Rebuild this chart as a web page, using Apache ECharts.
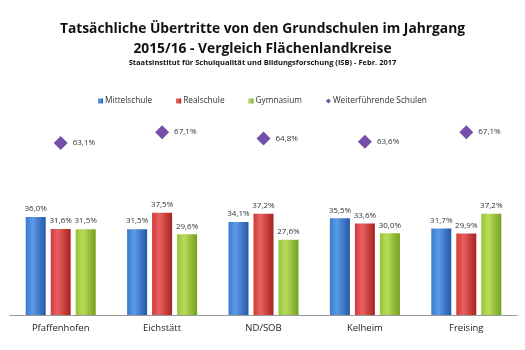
<!DOCTYPE html>
<html>
<head>
<meta charset="utf-8">
<script src="https://cdn.jsdelivr.net/npm/echarts@6/dist/echarts.min.js"></script>
<style>
  html, body { margin: 0; padding: 0; background: #fff; }
  #chart { width: 525px; height: 350px; }
</style>
</head>
<body>
<div id="chart"></div>
<script>
  const categories = ['Pfaffenhofen', 'Eichstätt', 'ND/SOB', 'Kelheim', 'Freising'];
  const mittelschule = [36.0, 31.5, 34.1, 35.5, 31.7];
  const realschule = [31.6, 37.5, 37.2, 33.6, 29.9];
  const gymnasium = [31.5, 29.6, 27.6, 30.0, 37.2];
  const weiterfuehrend = [63.1, 67.1, 64.8, 63.6, 67.1];

  const fmt = (p) => p.value.toFixed(1).replace('.', ',') + '%';

  const barGrad = (light, mid, dark) => ({
    type: 'linear', x: 0, y: 0, x2: 1, y2: 0,
    colorStops: [
      { offset: 0, color: mid },
      { offset: 0.35, color: light },
      { offset: 1, color: dark },
    ],
  });

  const barLabel = {
    show: true,
    position: 'top',
    distance: 4,
    formatter: fmt,
    fontFamily: 'Open Sans',
    fontSize: 8,
    color: '#333',
  };

  const chart = echarts.init(document.getElementById('chart'));

  chart.setOption({
    animation: false,
    textStyle: { fontFamily: 'Open Sans' },
    title: [
      {
        text: 'Tatsächliche Übertritte von den Grundschulen im Jahrgang\n2015/16 - Vergleich Flächenlandkreise',
        left: 'center',
        top: 14,
        textStyle: { fontSize: 13.8, fontWeight: 'bold', color: '#111', lineHeight: 20, fontFamily: 'Open Sans' },
      },
      {
        text: 'Staatsinstitut für Schulqualität und Bildungsforschung (ISB) - Febr. 2017',
        left: 'center',
        top: 54,
        textStyle: { fontSize: 7.5, fontWeight: 'bold', color: '#111', fontFamily: 'Open Sans' },
      },
    ],
    legend: {
      top: 92,
      left: 'center',
      itemWidth: 5,
      itemHeight: 5,
      itemGap: 24,
      textStyle: { fontSize: 8.3, color: '#333', padding: [0, 0, 0, -3] },
      data: [
        { name: 'Mittelschule', icon: 'rect' },
        { name: 'Realschule', icon: 'rect' },
        { name: 'Gymnasium', icon: 'rect' },
        { name: 'Weiterführende Schulen', icon: 'diamond' },
      ],
    },
    grid: { left: 10, right: 8, top: 97, bottom: 35 },
    xAxis: {
      type: 'category',
      data: categories,
      axisTick: { show: false },
      axisLine: { lineStyle: { color: '#999' } },
      axisLabel: { fontSize: 9.5, color: '#222', margin: 8 },
    },
    yAxis: {
      type: 'value',
      min: 0,
      max: 80,
      show: false,
      splitLine: { show: false },
    },
    series: [
      {
        name: 'Mittelschule',
        type: 'bar',
        data: mittelschule,
        barWidth: 20,
        barGap: '25%',
        color: '#3a7bd0',
        itemStyle: { color: barGrad('#5d9ae6', '#3a7bd0', '#2358a8') },
        label: barLabel,
      },
      {
        name: 'Realschule',
        type: 'bar',
        data: realschule,
        barWidth: 20,
        color: '#d23a3a',
        itemStyle: { color: barGrad('#e86060', '#d23a3a', '#a82222') },
        label: barLabel,
      },
      {
        name: 'Gymnasium',
        type: 'bar',
        data: gymnasium,
        barWidth: 20,
        color: '#98c23a',
        itemStyle: { color: barGrad('#b8dc5a', '#98c23a', '#74a020') },
        label: barLabel,
      },
      {
        name: 'Weiterführende Schulen',
        type: 'scatter',
        data: weiterfuehrend,
        symbol: 'diamond',
        symbolSize: [14, 14],
        color: '#7450a8',
        itemStyle: { color: '#7450a8', opacity: 1 },
        label: {
          show: true,
          position: 'right',
          distance: 5,
          formatter: fmt,
          fontSize: 8,
          color: '#333',
        },
      },
    ],
  });
</script>
</body>
</html>
